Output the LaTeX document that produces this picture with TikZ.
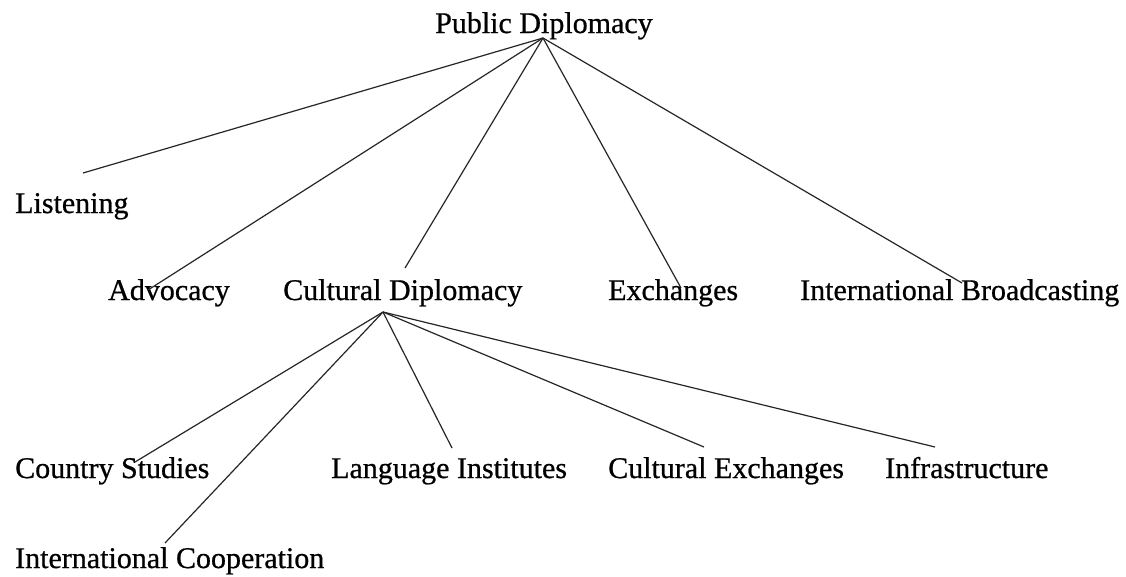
\documentclass[tikz,border=0pt]{standalone}
\usepackage{fontspec}
\setmainfont{Liberation Serif}
\newfontfamily\reffont[FakeBold=0.7]{Liberation Serif}
\tikzset{
  lbl/.style={anchor=base west, inner sep=0pt, font=\reffont\fontsize{30}{36}\selectfont, text=black},
  edge/.style={draw=black!85, line width=1.2pt}
}
\begin{document}
\begin{tikzpicture}[x=1pt,y=-1pt]
\useasboundingbox[fill=white] (0,0) rectangle (1126,576);
% labels
\node[lbl] (pd)  at (435,33)  {Public Diplomacy};
\node[lbl] (lis) at (15,213)  {Listening};
\node[lbl] (adv) at (108,300) {Advocacy};
\node[lbl] (cd)  at (283,300) {Cultural Diplomacy};
\node[lbl] (exc) at (608,300) {Exchanges};
\node[lbl] (ib)  at (800,300) {International Broadcasting};
\node[lbl] (cs)  at (15,478)  {Country Studies};
\node[lbl] (li)  at (331,478) {Language Institutes};
\node[lbl] (ce)  at (608,478) {Cultural Exchanges};
\node[lbl] (inf) at (885,478) {Infrastructure};
\node[lbl] (ic)  at (15,568)  {International Cooperation};
% hubs and line ends
\coordinate (pdhub) at (543,38);
\coordinate (cdhub) at (383,312);
\coordinate (lisend) at (83,173);
\coordinate (advend) at (148,290);
\coordinate (cdend)  at (405,268);
\coordinate (excend) at (681,288);
\coordinate (ibend)  at (962,283);
\coordinate (csend)  at (135,462);
\coordinate (icend)  at (165,543);
\coordinate (liend)  at (452,448);
\coordinate (ceend)  at (704,447);
\coordinate (infend) at (935,447);
% connectors
\foreach \e in {lisend,advend,cdend,excend,ibend}
  \draw[edge] (pdhub) -- (\e);
\foreach \e in {csend,icend,liend,ceend,infend}
  \draw[edge] (cdhub) -- (\e);
\end{tikzpicture}
\end{document}
